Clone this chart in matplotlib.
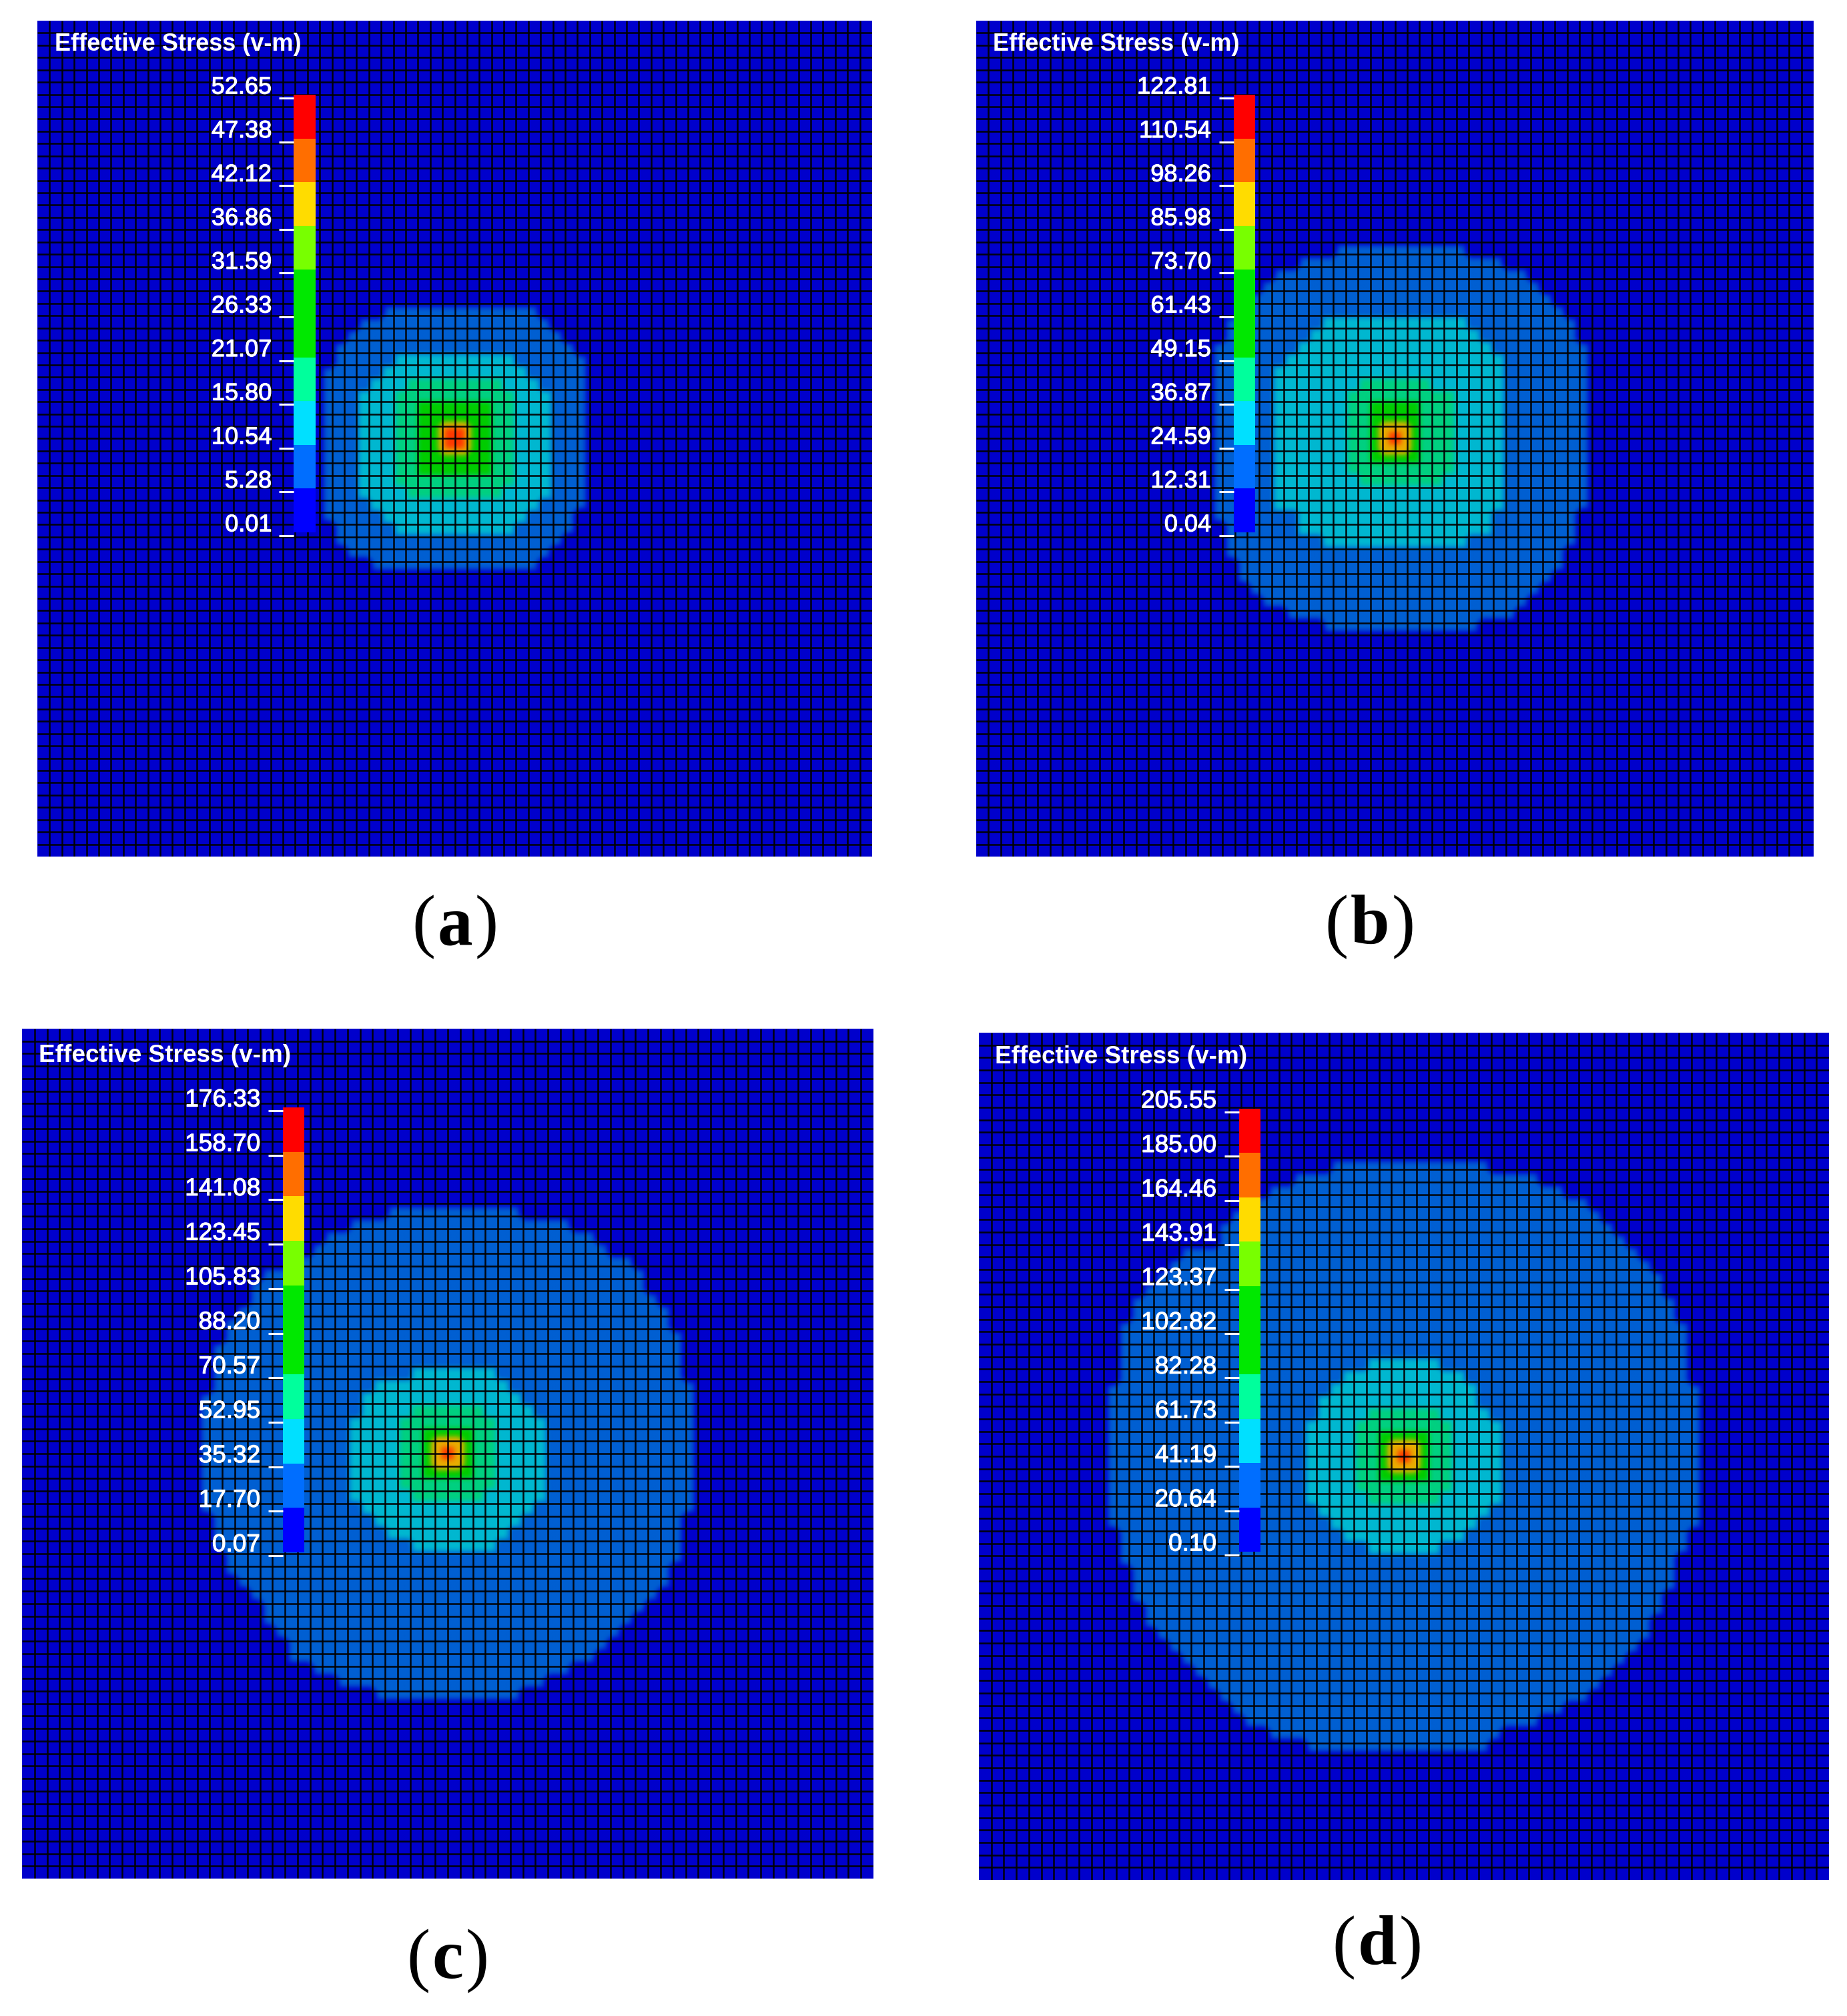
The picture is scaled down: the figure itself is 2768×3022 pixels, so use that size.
import numpy as np
import matplotlib
matplotlib.use("Agg")
import matplotlib.pyplot as plt
import matplotlib.patheffects as pe
from matplotlib.colors import ListedColormap, to_rgb
from matplotlib.transforms import ScaledTranslation

W, H, DPI = 2768, 3022, 100
N = 68

# colour-scale labels, top to bottom
a_ticks = [52.65, 47.38, 42.12, 36.86, 31.59, 26.33, 21.07, 15.80, 10.54, 5.28, 0.01]
b_ticks = [122.81, 110.54, 98.26, 85.98, 73.70, 61.43, 49.15, 36.87, 24.59, 12.31, 0.04]
c_ticks = [176.33, 158.70, 141.08, 123.45, 105.83, 88.20, 70.57, 52.95, 35.32, 17.70, 0.07]
d_ticks = [205.55, 185.00, 164.46, 143.91, 123.37, 102.82, 82.28, 61.73, 41.19, 20.64, 0.10]

# Contour bands: first row, then (first col, last col) for each row
a_blue = (23, [(28, 40), (26, 41), (25, 42), (24, 43), (24, 44)] + [(23, 44)] * 12 +
          [(23, 43), (24, 43), (24, 42), (25, 41), (27, 40)])
a_cyan = (27, [(29, 38), (28, 39), (27, 40)] + [(26, 41)] * 9 + [(27, 40), (28, 39), (29, 38)])
a_teal = (29, [(30, 37)] + [(29, 38)] * 8 + [(30, 37)])
a_green = (31, [(31, 36)] * 6)
a_core = (33, [(33, 34)] * 2)

b_blue = (18, [(29, 39), (26, 42), (24, 44), (23, 45), (22, 46), (21, 47), (20, 48), (20, 48)] +
          [(19, 49)] * 14 + [(19, 48), (20, 48), (20, 48), (20, 47), (21, 47), (21, 46),
                             (22, 45), (23, 44), (25, 43), (28, 40)])
b_cyan = (24, [(28, 39), (27, 40), (26, 41), (25, 42)] + [(24, 42)] * 12 +
          [(26, 41), (26, 41), (28, 39)])
b_teal = (29, [(31, 36)] + [(30, 38)] * 7 + [(31, 37)])
b_green = (31, [(32, 35)] * 5)
b_core = (33, [(33, 34)] * 2)

c_blue = (14, [(29, 39), (26, 43), (24, 45), (23, 46), (21, 48), (19, 49), (18, 49), (18, 50),
               (17, 51), (16, 51), (16, 52), (15, 52), (15, 52), (15, 52), (15, 53)] +
          [(14, 53)] * 10 + [(15, 52), (15, 52), (15, 52), (16, 52), (16, 51), (17, 51),
                             (18, 50), (19, 49), (19, 48), (20, 47), (21, 46), (21, 45),
                             (23, 43), (25, 41), (28, 39)])
c_cyan = (27, [(31, 37), (28, 38), (27, 39), (27, 40)] + [(26, 41)] * 7 +
          [(27, 40), (28, 39), (29, 38), (31, 37)])
c_teal = (30, [(31, 36)] + [(30, 37)] * 6 + [(31, 36)])
c_green = (32, [(32, 35)] * 4)
c_core = (33, [(33, 34)] * 2)

d_blue = (10, [(28, 40), (25, 44), (23, 46), (22, 48), (20, 49), (19, 50), (19, 51), (16, 52),
               (15, 53), (14, 54), (13, 54), (12, 55), (12, 55)] + [(11, 56)] * 5 +
          [(10, 57)] * 12 + [(11, 56), (11, 56), (11, 55), (12, 55), (12, 55), (12, 54),
                             (13, 54), (13, 53), (14, 53), (15, 52), (16, 51), (17, 50),
                             (18, 49), (19, 48), (20, 46), (21, 44), (23, 41), (26, 40)])
d_cyan = (26, [(31, 36), (29, 38), (28, 39), (27, 39), (27, 40)] + [(26, 41)] * 7 +
          [(27, 40), (28, 39), (29, 38), (31, 36)])
d_teal = (30, [(31, 36)] + [(30, 37)] * 6 + [(31, 36)])
d_green = (32, [(32, 35)] * 4)
d_core = (33, [(33, 34)] * 2)

mesh_colors = ["#0000cc", "#005fd2", "#00b8d0", "#00d080", "#00cc00", "#e8ae00", "#ff3a00"]
bar_colors = ["#0000ff", "#006eff", "#00e0ff", "#00ff9c", "#00e800", "#00e800",
              "#78ff00", "#ffdc00", "#ff6e00", "#ff0000"]

# panel boxes and legend geometry in reference pixels
panels = [
    dict(box=(56, 31, 1307, 1284), bands=(a_blue, a_cyan, a_teal, a_green, a_core), ticks=a_ticks,
         title=(82, 67), bar=(440, 473, 142, 798), tag="a", tag_xy=(682, 1391), size=26, hot=5, pad=8),
    dict(box=(1463, 31, 2718, 1284), bands=(b_blue, b_cyan, b_teal, b_green, b_core), ticks=b_ticks,
         title=(1488, 67), bar=(1849, 1881, 142, 798), tag="b", tag_xy=(2053, 1391), size=26, hot=3, pad=9),
    dict(box=(33, 1542, 1309, 2816), bands=(c_blue, c_cyan, c_teal, c_green, c_core), ticks=c_ticks,
         title=(58, 1583), bar=(424, 456, 1660, 2327), tag="c", tag_xy=(671, 2941), size=26.6, hot=3, pad=9),
    dict(box=(1467, 1548, 2741, 2818), bands=(d_blue, d_cyan, d_teal, d_green, d_core), ticks=d_ticks,
         title=(1491, 1584), bar=(1857, 1889, 1662, 2326), tag="d", tag_xy=(2064, 2921), size=26.6, hot=3, pad=9),
]

SANS = "Liberation Sans"
SUB = 6  # image sub-cells per mesh cell
SHRINK = {1: 2, 2: 1, 3: 1, 4: 0, 5: -2}  # contour edge lies inside the outermost cell

fig = plt.figure(figsize=(W / DPI, H / DPI), dpi=DPI, facecolor="white")


def add_px_axes(x0, y0, x1, y1):
    return fig.add_axes([x0 / W, 1 - y1 / H, (x1 - x0) / W, (y1 - y0) / H])


def morph(mask, n):
    grow = n < 0
    for _ in range(abs(n)):
        out = mask.copy()
        for axis in (0, 1):
            for shift in (1, -1):
                moved = np.roll(mask, shift, axis=axis)
                out = out | moved if grow else out & moved
        mask = out
    return mask


def field_rgb(grid, hot):
    fine = np.repeat(np.repeat(grid, SUB, axis=0), SUB, axis=1)
    out = np.zeros_like(fine)
    for level in range(1, 6):
        out[morph(fine >= level, SHRINK[level])] = level
    mid = 34 * SUB
    out[mid - hot:mid + hot, mid - hot:mid + hot] = 6
    rgb = np.array([to_rgb(c) for c in mesh_colors])[out]
    kernel = np.ones(3) / 3
    for _ in range(2):
        for axis in (0, 1):
            rgb = np.apply_along_axis(
                lambda v: np.convolve(np.pad(v, 1, mode="edge"), kernel, "valid"), axis, rgb)
    return rgb


for p in panels:
    x0, y0, x1, y1 = p["box"]
    ax = add_px_axes(x0, y0, x1, y1)
    grid = np.zeros((N, N), dtype=int)
    for level, (first_row, spans) in enumerate(p["bands"], start=1):
        for i, (c0, c1) in enumerate(spans):
            grid[first_row + i, c0:c1 + 1] = level
    ax.imshow(field_rgb(grid, p["hot"]), extent=(0, N, N, 0), interpolation="bilinear",
              aspect="auto", zorder=1)
    ax.vlines(np.arange(1, N), 0, N, color="black", lw=1.85, alpha=0.92, zorder=2)
    ax.hlines(np.arange(1, N), 0, N, color="black", lw=1.85, alpha=0.92, zorder=2)
    ax.set_xlim(0, N)
    ax.set_ylim(N, 0)
    ax.set_xticks([])
    ax.set_yticks([])
    for s in ax.spines.values():
        s.set_visible(False)

    # legend title
    tx, ty = p["title"]
    fig.text(tx / W, 1 - ty / H, "Effective Stress (v-m)", color="white", family=SANS,
             weight="bold", fontsize=p["size"], va="center", ha="left", zorder=10)

    # colour bar on its own axis; ticks sit 5 px under the segment edges
    bx0, bx1, by0, by1 = p["bar"]
    step = (by1 - by0) / 10
    off = 5 / step
    bax = add_px_axes(bx0, by0, bx1, by1 + 6)
    bax.set_zorder(5)
    bax.patch.set_visible(False)
    total = (by1 + 6 - by0) / step
    bax.set_ylim(10 + off - total, 10 + off)
    bax.set_xlim(0, 1)
    bax.pcolormesh([0, 1], np.arange(11) + off, np.arange(10).reshape(-1, 1),
                   cmap=ListedColormap(bar_colors), vmin=-0.5, vmax=9.5, shading="flat")
    bax.set_xticks([])
    for s in bax.spines.values():
        s.set_visible(False)
    labels = [f"{v:.2f}" for v in p["ticks"]][::-1]
    bax.set_yticks(np.arange(11), labels)
    bax.tick_params(axis="y", direction="out", length=15.5, width=2.2, color="white",
                    pad=p["pad"], labelcolor="white", labelsize=p["size"])
    for lab in bax.get_yticklabels():
        lab.set_family(SANS)
        lab.set_va("center")
        lab.set_path_effects([pe.withStroke(linewidth=0.8, foreground="white")])
        lab.set_transform(lab.get_transform() + ScaledTranslation(0, 16 / DPI, fig.dpi_scale_trans))

# panel tags: bold letter between regular parentheses
fig.canvas.draw()
renderer = fig.canvas.get_renderer()
for p in panels:
    tx, ty = p["tag_xy"]
    t = fig.text(tx / W, 1 - (ty + 24) / H, p["tag"], family="Liberation Serif", weight="bold",
                 fontsize=76, ha="center", va="baseline", color="black")
    w = t.get_window_extent(renderer).width
    gap = 3
    fig.text((tx - w / 2 - gap) / W, 1 - (ty + 24) / H, "(", family="Liberation Serif", fontsize=76,
             ha="right", va="baseline", color="black")
    fig.text((tx + w / 2 + gap) / W, 1 - (ty + 24) / H, ")", family="Liberation Serif", fontsize=76,
             ha="left", va="baseline", color="black")

fig.savefig("out.png", dpi=DPI, facecolor="white")
